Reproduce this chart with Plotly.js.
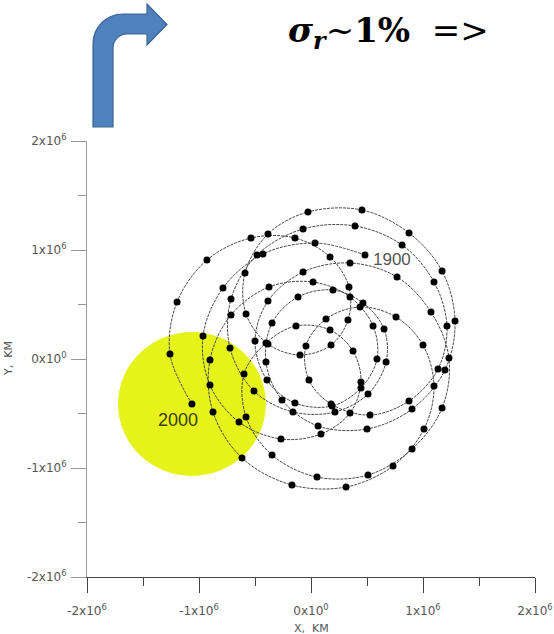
<!DOCTYPE html>
<html>
<head>
<meta charset="utf-8">
<script src="https://cdn.plot.ly/plotly-3.0.1.min.js"></script>
<style>
html,body{margin:0;padding:0;background:#fff;}
#chart{width:554px;height:634px;}
</style>
</head>
<body>
<div id="chart"></div>
<script>
// Sun's path around the barycentre, one dot per year 1900..2000 (values in 10^6 km)
const xs = [0.482,0.036,-0.429,-0.786,-0.964,-0.902,-0.643,-0.268,0.089,0.348,
0.446,0.375,0.170,-0.134,-0.402,-0.598,-0.580,-0.348,0.054,0.509,
0.902,1.170,1.232,1.071,0.768,0.348,-0.071,-0.384,-0.500,-0.393,
-0.143,0.188,0.446,0.589,0.554,0.348,0.018,-0.375,-0.714,-0.902,
-0.875,-0.616,-0.170,0.313,0.732,1.009,1.098,1.000,0.759,0.438,
0.134,-0.045,-0.018,0.179,0.527,0.875,1.134,1.214,1.098,0.813,
0.393,-0.071,-0.482,-0.714,-0.723,-0.509,-0.161,0.214,0.509,0.670,
0.652,0.464,0.196,-0.116,-0.348,-0.402,-0.259,0.063,0.500,0.902,
1.196,1.286,1.170,0.875,0.455,-0.027,-0.384,-0.589,-0.580,-0.384,
-0.098,0.179,0.330,0.339,0.170,-0.143,-0.536,-0.929,-1.196,-1.259,
-1.063];
const ys = [0.954,1.064,0.963,0.651,0.211,-0.239,-0.578,-0.734,-0.688,-0.495,
-0.211,0.073,0.266,0.303,0.147,-0.138,-0.532,-0.881,-1.083,-1.064,
-0.826,-0.450,0.009,0.431,0.752,0.881,0.798,0.532,0.165,-0.193,
-0.404,-0.431,-0.266,0.000,0.303,0.569,0.706,0.661,0.404,-0.009,
-0.486,-0.908,-1.156,-1.174,-0.982,-0.642,-0.248,0.128,0.385,0.477,
0.367,0.119,-0.193,-0.413,-0.514,-0.385,-0.092,0.303,0.706,1.046,
1.220,1.193,0.954,0.550,0.101,-0.294,-0.486,-0.486,-0.321,-0.028,
0.275,0.514,0.633,0.569,0.330,-0.028,-0.376,-0.615,-0.642,-0.459,
-0.101,0.349,0.807,1.156,1.367,1.349,1.147,0.789,0.413,0.138,
0.037,0.128,0.358,0.661,0.936,1.110,1.110,0.908,0.523,0.046,
-0.413];
const yearLabels = ['1900', '2000'];
const errorRadius = [0.66];           // radius of the ~1% uncertainty disc, 10^6 km
const tickVals = [-2, -1, 0, 1, 2];
const tickText = ['-2x10<sup>6</sup>', '-1x10<sup>6</sup>', '0x10<sup>0</sup>', '1x10<sup>6</sup>', '2x10<sup>6</sup>'];
const minorVals = [-1.5, -0.5, 0.5, 1.5];
const M = 1e6;

// pixel -> paper helpers (plot area 87..535 x 141..577)
const L = 87, R = 535, T = 141, B = 577;
const px = p => (p - L) / (R - L);
const py = p => (B - p) / (B - T);
function P(x, y) { return px(x).toFixed(5) + ',' + py(y).toFixed(5); }

const arrowPath = 'M' + P(93,127) + ' L' + P(93,44) +
  ' C' + P(93,27.4) + ' ' + P(106.4,14) + ' ' + P(123,14) +
  ' L' + P(147,14) + ' L' + P(147,4) + ' L' + P(167,24.5) + ' L' + P(147,45) +
  ' L' + P(147,34) + ' L' + P(127,34) +
  ' C' + P(119.3,34) + ' ' + P(113,40.3) + ' ' + P(113,48) +
  ' L' + P(113,127) + ' Z';

const cx = xs[xs.length - 1], cy = ys[ys.length - 1], r = errorRadius[0];

const trace = {
  x: xs.map(v => v * M), y: ys.map(v => v * M),
  type: 'scatter', mode: 'lines+markers',
  line: {shape: 'spline', smoothing: 1, color: '#4a4a4a', width: 1, dash: '3px,1px'},
  marker: {size: 7, color: '#000'},
  hoverinfo: 'x+y'
};

const axisFont = {family: 'DejaVu Sans', size: 12, color: '#555'};
const layout = {
  width: 554, height: 634,
  margin: {l: 87, r: 19, t: 141, b: 57, pad: 0},
  paper_bgcolor: '#fff', plot_bgcolor: '#fff',
  showlegend: false,
  xaxis: {
    range: [-2 * M, 2 * M], tickmode: 'array', tickvals: tickVals.map(v => v * M), ticktext: tickText,
    ticks: 'outside', ticklen: 15, tickwidth: 1, tickcolor: '#444',
    showline: true, linecolor: '#444', linewidth: 1,
    showgrid: false, zeroline: false, fixedrange: true,
    minor: {tickvals: minorVals.map(v => v * M), ticks: 'outside', ticklen: 8, tickwidth: 1, tickcolor: '#444', showgrid: false},
    tickfont: axisFont, ticklabelstandoff: 8
  },
  yaxis: {
    range: [-2 * M, 2 * M], tickmode: 'array', tickvals: tickVals.map(v => v * M), ticktext: tickText,
    ticks: 'outside', ticklen: 15, tickwidth: 1, tickcolor: '#999',
    showline: true, linecolor: '#999', linewidth: 1,
    showgrid: false, zeroline: false, fixedrange: true,
    minor: {tickvals: minorVals.map(v => v * M), ticks: 'outside', ticklen: 8, tickwidth: 1, tickcolor: '#999', showgrid: false},
    tickfont: axisFont, ticklabelstandoff: 2
  },
  shapes: [
    {type: 'circle', xref: 'x', yref: 'y', layer: 'below',
     x0: (cx - r) * M, x1: (cx + r) * M, y0: (cy - r) * M, y1: (cy + r) * M,
     fillcolor: '#e5f31b', line: {width: 0}},
    {type: 'path', xref: 'paper', yref: 'paper', path: arrowPath,
     fillcolor: '#4f81bd', line: {color: '#3a6596', width: 1.2}}
  ],
  annotations: [
    {xref: 'x', yref: 'y', x: 0.723 * M, y: 0.917 * M, text: yearLabels[0], showarrow: false,
     font: {family: 'Liberation Sans', size: 17, color: '#555'}},
    {xref: 'x', yref: 'y', x: -1.19 * M, y: -0.56 * M, text: yearLabels[1], showarrow: false,
     font: {family: 'Liberation Sans', size: 18, color: '#3d3d10'}},
    {xref: 'paper', yref: 'paper', x: px(8), y: py(359), text: 'Y,&nbsp; KM', textangle: -90, showarrow: false,
     xanchor: 'center', yanchor: 'middle', font: {family: 'DejaVu Sans', size: 11, color: '#555'}},
    {xref: 'paper', yref: 'paper', x: px(311), y: py(628), text: 'X,&nbsp; KM', showarrow: false,
     xanchor: 'center', yanchor: 'middle', font: {family: 'DejaVu Sans', size: 11, color: '#555'}},
    {xref: 'paper', yref: 'paper', x: px(286), y: py(33), xanchor: 'left', yanchor: 'middle', showarrow: false,
     text: '<b><i>σ</i></b><sub><b><i>r</i></b></sub>~<b>1%</b>&nbsp; =&gt;',
     font: {family: 'DejaVu Serif', size: 34, color: '#000'}}
  ]
};

Plotly.newPlot('chart', [trace], layout, {displayModeBar: false, staticPlot: true});
</script>
</body>
</html>
